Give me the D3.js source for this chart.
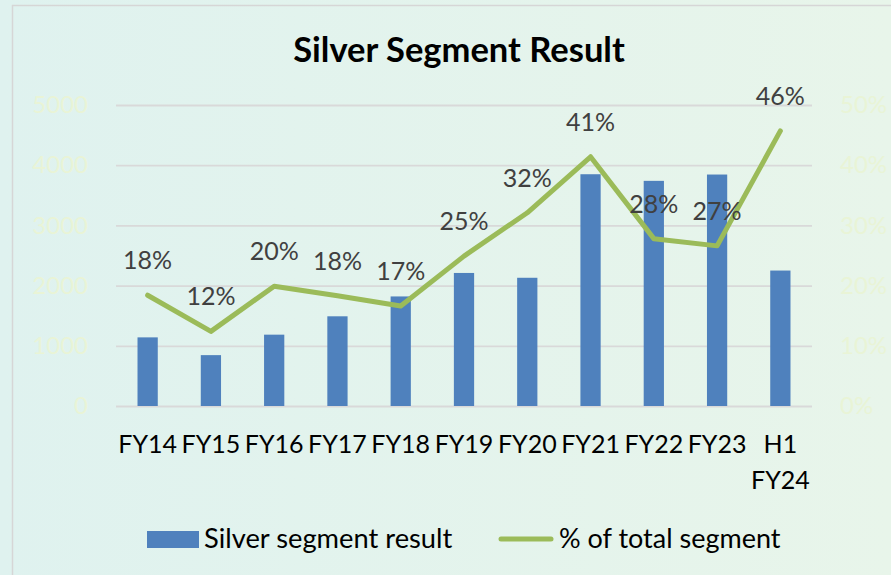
<!DOCTYPE html>
<html>
<head>
<meta charset="utf-8">
<script src="https://cdn.jsdelivr.net/npm/d3@7"></script>
<style>
  body { margin: 0; background: #e2f3ef; }
  svg { display: block; font-family: Lato, "Open Sans", sans-serif; }
</style>
</head>
<body>
<script>
var categories = ["FY14", "FY15", "FY16", "FY17", "FY18", "FY19", "FY20", "FY21", "FY22", "FY23", "H1 FY24"];
var segmentResult = [1140, 845, 1185, 1490, 1820, 2210, 2130, 3850, 3740, 3845, 2250];
var pctOfTotal = [18.4, 12.4, 19.9, 18.3, 16.6, 24.9, 32.1, 41.4, 27.8, 26.6, 45.7];
var leftTicks = [0, 1000, 2000, 3000, 4000, 5000];
var rightTicks = [0, 10, 20, 30, 40, 50];

var W = 891, H = 575;
var margin = {top: 105, right: 79, bottom: 169, left: 116},
    width = W - margin.left - margin.right,
    height = H - margin.top - margin.bottom;

var svg = d3.select("body").append("svg")
    .attr("width", W)
    .attr("height", H);

var grad = svg.append("defs").append("linearGradient")
    .attr("id", "bg")
    .attr("x1", "0%").attr("x2", "100%").attr("y1", "0%").attr("y2", "0%");
grad.append("stop").attr("offset", "0%").attr("stop-color", "#dff2ef");
grad.append("stop").attr("offset", "100%").attr("stop-color", "#e8f5ea");

svg.append("rect")
    .attr("width", W).attr("height", H)
    .attr("fill", "url(#bg)");
svg.append("rect")
    .attr("x", 12.5).attr("y", 5.5)
    .attr("width", W + 20).attr("height", H + 20)
    .attr("fill", "none")
    .attr("stroke", "#d6d6d6")
    .attr("stroke-width", 1.5);

svg.append("text")
    .attr("x", 459).attr("y", 62)
    .attr("text-anchor", "middle")
    .style("font-size", "34.5px")
    .style("font-weight", "bold")
    .attr("fill", "#000")
    .text("Silver Segment Result");

var x = d3.scaleBand()
    .domain(categories)
    .range([0, width])
    .paddingInner(0.68)
    .paddingOuter(0.34);

var y = d3.scaleLinear().domain([0, 5000]).range([height, 0]);
var y2 = d3.scaleLinear().domain([0, 50]).range([height, 0]);

var g = svg.append("g")
    .attr("transform", "translate(" + margin.left + "," + margin.top + ")");

// gridlines
g.append("g")
    .attr("class", "grid")
    .call(d3.axisLeft(y).tickValues(leftTicks).tickSize(-width).tickFormat(""))
    .call(function(s) {
        s.select(".domain").remove();
        s.selectAll("line").attr("stroke", "#d9d9d9").attr("stroke-width", 1.8);
    });

// left axis labels (very faint)
g.append("g")
    .attr("transform", "translate(" + (88 - margin.left) + ",0)")
    .call(d3.axisLeft(y).tickValues(leftTicks).tickSize(0).tickPadding(0)
        .tickFormat(d3.format("d")))
    .call(function(s) {
        s.select(".domain").remove();
        s.selectAll("text")
            .attr("fill", "#e9f4d6")
            .style("font-size", "24px")
            .style("font-family", "Lato, sans-serif");
    });

// right axis labels
g.append("g")
    .attr("transform", "translate(" + (840 - margin.left) + ",0)")
    .call(d3.axisRight(y2).tickValues(rightTicks).tickSize(0).tickPadding(0)
        .tickFormat(function(d) { return d + "%"; }))
    .call(function(s) {
        s.select(".domain").remove();
        s.selectAll("text")
            .attr("fill", "#e9f4d6")
            .style("font-size", "24px")
            .style("font-family", "Lato, sans-serif");
    });

// bars
g.selectAll("rect.bar")
    .data(segmentResult)
    .enter().append("rect")
    .attr("class", "bar")
    .attr("x", function(d, i) { return x(categories[i]); })
    .attr("y", function(d) { return y(d); })
    .attr("width", x.bandwidth())
    .attr("height", function(d) { return height - y(d); })
    .attr("fill", "#4f81bd");

// line
var cx = function(i) { return x(categories[i]) + x.bandwidth() / 2; };
var line = d3.line()
    .x(function(d, i) { return cx(i); })
    .y(function(d) { return y2(d); });

g.append("path")
    .datum(pctOfTotal)
    .attr("d", line)
    .attr("fill", "none")
    .attr("stroke", "#9bbb59")
    .attr("stroke-width", 5)
    .attr("stroke-linejoin", "round")
    .attr("stroke-linecap", "round");

g.selectAll("text.lbl")
    .data(pctOfTotal)
    .enter().append("text")
    .attr("class", "lbl")
    .attr("x", function(d, i) { return cx(i); })
    .attr("y", function(d) { return y2(d) - 26; })
    .attr("text-anchor", "middle")
    .attr("fill", "#404040")
    .style("font-size", "25px")
    .text(function(d) { return Math.round(d) + "%"; });

// x axis labels
var xAxis = g.append("g")
    .attr("transform", "translate(0," + height + ")")
    .call(d3.axisBottom(x).tickSize(0).tickPadding(0));
xAxis.select(".domain").remove();
xAxis.selectAll("text")
    .attr("fill", "#000")
    .attr("dy", null)
    .attr("y", 0)
    .style("font-size", "25px")
    .style("font-family", "Lato, sans-serif")
    .each(function(d) {
        var t = d3.select(this), parts = d.split(" ");
        t.text(null);
        parts.forEach(function(p, k) {
            t.append("tspan")
                .attr("x", 0)
                .attr("y", 47 + k * 36)
                .text(p);
        });
    });

// legend
var legend = svg.append("g");
legend.append("rect")
    .attr("x", 147).attr("y", 531)
    .attr("width", 52).attr("height", 17)
    .attr("fill", "#4f81bd");
legend.append("text")
    .attr("x", 204).attr("y", 548)
    .style("font-size", "27.3px")
    .attr("fill", "#000")
    .text("Silver segment result");
legend.append("line")
    .attr("x1", 501).attr("x2", 551)
    .attr("y1", 539).attr("y2", 539)
    .attr("stroke", "#9bbb59")
    .attr("stroke-width", 5)
    .attr("stroke-linecap", "round");
legend.append("text")
    .attr("x", 559).attr("y", 548)
    .style("font-size", "27px")
    .attr("fill", "#000")
    .text("% of total segment");
</script>
</body>
</html>
